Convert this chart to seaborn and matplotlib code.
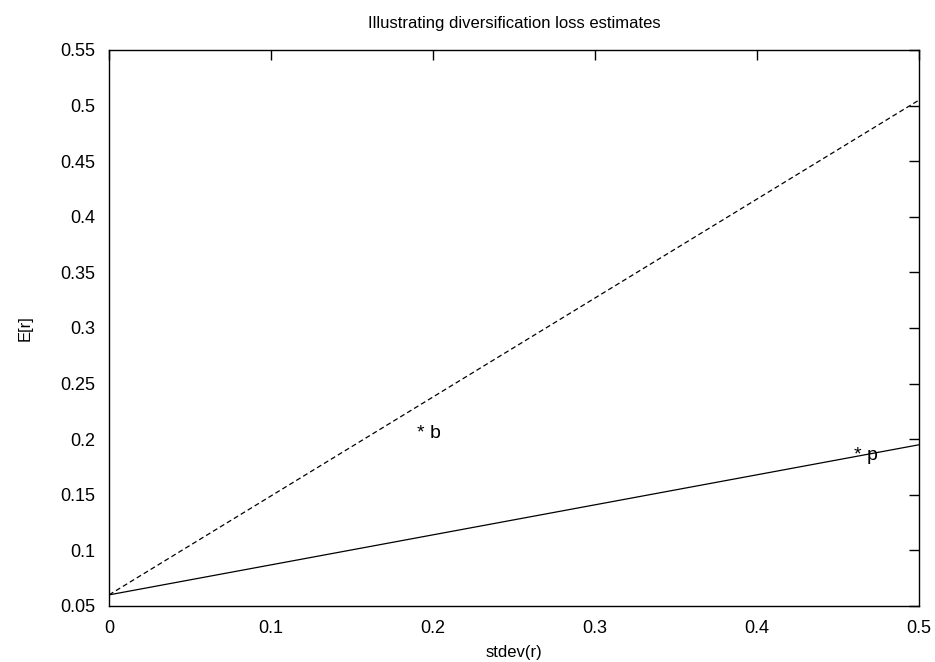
import matplotlib
matplotlib.use("Agg")
import matplotlib.pyplot as plt
import seaborn as sns
import pandas as pd

sns.set_style("white")
plt.rcParams["font.family"] = ["Liberation Sans", "DejaVu Sans"]
plt.rcParams["font.size"] = 13
plt.rcParams["text.color"] = "black"
plt.rcParams["axes.labelcolor"] = "black"

# line end points (stdev, E[r])
line_x = [0.0, 0.5]
solid_y = [0.06, 0.195]
dashed_y = [0.06, 0.505]

# labelled points
point_names = ["* b", "* p"]
point_x = [0.19, 0.46]
point_y = [0.205, 0.185]

xticks = [0, 0.1, 0.2, 0.3, 0.4, 0.5]
yticks = [0.05, 0.1, 0.15, 0.2, 0.25, 0.3, 0.35, 0.4, 0.45, 0.5, 0.55]

df = pd.DataFrame({"x": line_x + line_x,
                   "y": solid_y + dashed_y,
                   "kind": ["solid"] * 2 + ["dashed"] * 2})

fig = plt.figure(figsize=(9.35, 6.62), dpi=100)
ax = fig.add_axes([0.1166, 0.0846, 0.8664, 0.8399])

sns.lineplot(data=df, x="x", y="y", style="kind",
             dashes={"solid": "", "dashed": (4, 2.5)},
             color="black", linewidth=0.9, legend=False, ax=ax)

for name, px, py in zip(point_names, point_x, point_y):
    ax.text(px, py, name, ha="left", va="center", fontsize=14, color="black")

ax.set_xlim(0, 0.5)
ax.set_ylim(0.05, 0.55)
ax.set_xticks(xticks)
ax.set_xticklabels([f"{t:g}" for t in xticks])
ax.set_yticks(yticks)
ax.set_yticklabels([f"{t:g}" for t in yticks])
ax.tick_params(direction="in", length=7, width=1, top=True, right=True,
               labelsize=13, pad=10, colors="black")
for s in ax.spines.values():
    s.set_color("black")
    s.set_linewidth(1)

ax.set_xlabel("stdev(r)", fontsize=12, labelpad=6)
ax.set_ylabel("E[r]", fontsize=12, labelpad=20)
ax.set_title("Illustrating diversification loss estimates", fontsize=12, pad=16)

fig.savefig("out.png", dpi=100)
